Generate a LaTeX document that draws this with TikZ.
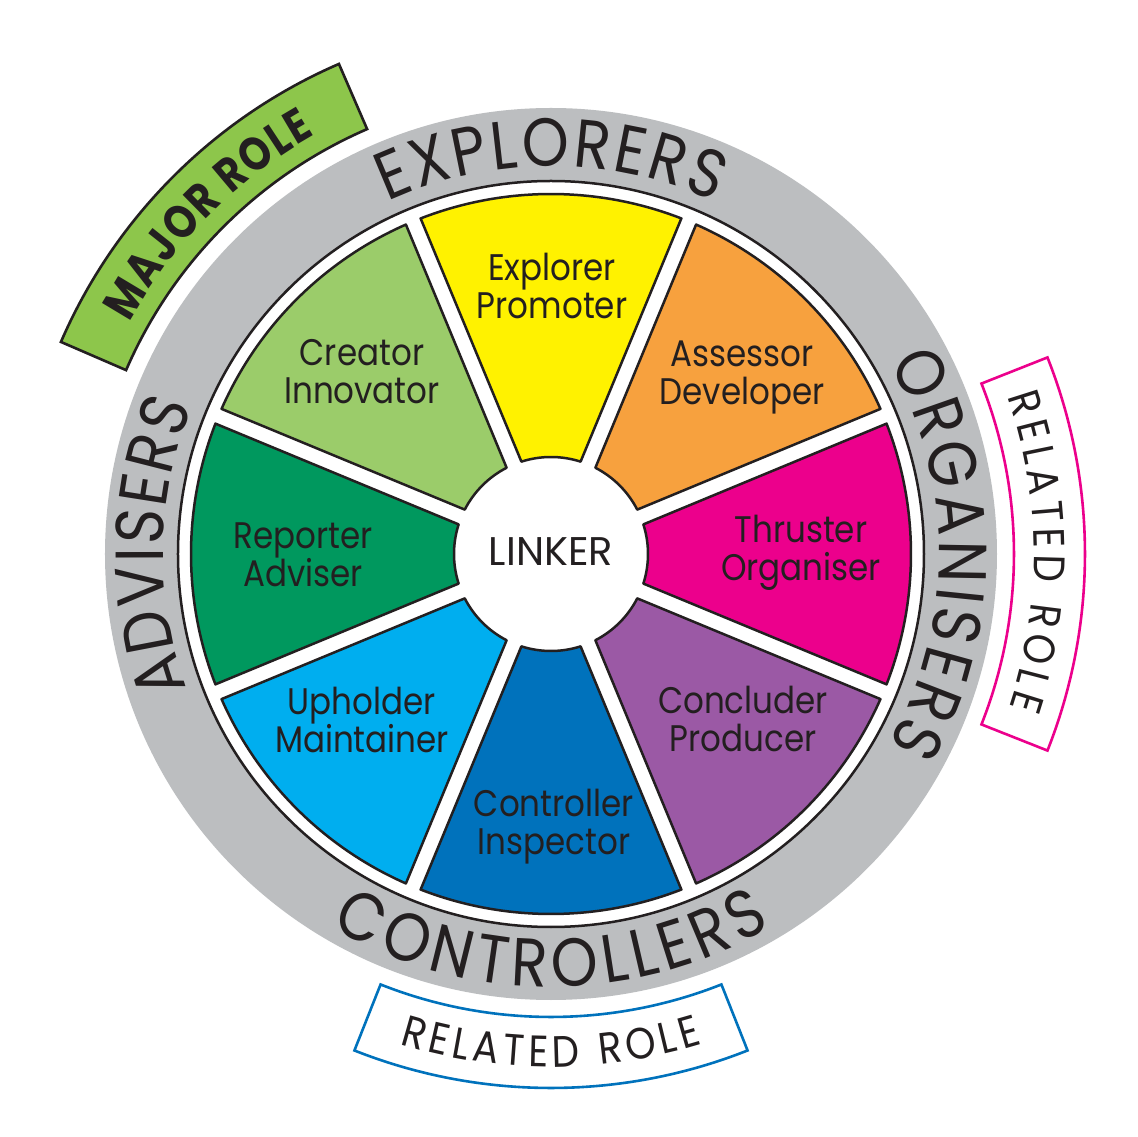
\documentclass[tikz,border=0pt]{standalone}
\usepackage{fontspec}
\setmainfont{Poppins}[FakeStretch=0.88]
\newfontfamily\mylinkfont{Poppins}
\newfontfamily\myboldfam{Poppins}[FakeStretch=0.84]
\usetikzlibrary{decorations.text}
\definecolor{ringgray}{RGB}{188,190,192}
\definecolor{txt}{RGB}{35,31,32}
\definecolor{cgreen}{RGB}{155,204,106}
\definecolor{cyellow}{RGB}{255,242,0}
\definecolor{corange}{RGB}{247,161,62}
\definecolor{cmagenta}{RGB}{236,0,140}
\definecolor{cpurple}{RGB}{155,89,165}
\definecolor{cblue}{RGB}{0,114,188}
\definecolor{clblue}{RGB}{0,174,239}
\definecolor{cdgreen}{RGB}{0,152,94}
\definecolor{majgreen}{RGB}{141,198,75}
\newcommand\myringfont{\fontsize{68}{68}\selectfont}
\newcommand\mymajfont{\myboldfam\fontsize{47}{47}\selectfont\bfseries}
\newcommand\myrelfont{\fontsize{44}{44}\selectfont}
\begin{document}
\begin{tikzpicture}[
  sector/.style={draw=txt, line width=2.5pt, line join=round},
  lbl/.style={align=center, text=txt, font=\fontsize{37}{38}\selectfont, inner sep=0pt},
  rolebox/.style={line width=2.6pt, line join=miter},
  ringtext/.style={decorate, decoration={text along path, text align=fit to path, text color=txt, text={|\myringfont|#1}}},
  roletext/.style 2 args={decorate, decoration={text along path, text align=fit to path, text color=txt, text={|#1|#2}}},
]
\useasboundingbox (-551pt,-583pt) rectangle (587pt,554pt);
\fill[white] (-551pt,-583pt) rectangle (587pt,554pt);
% ring
\fill[ringgray] (0,0) circle[radius=446pt];
\draw[fill=white, draw=txt, line width=2.5pt] (0,0) circle[radius=373pt];
% sectors
\foreach \a/\c in {90/cyellow, 45/corange, 0/cmagenta, -45/cpurple, -90/cblue, -135/clblue, 180/cdgreen, 135/cgreen}{
  \draw[sector, fill=\c] (\a-21.23:360pt) arc[start angle=\a-21.23, end angle=\a+21.23, radius=360pt]
     -- (\a+17.77:97pt) arc[start angle=\a+17.77, end angle=\a-17.77, radius=97pt] -- cycle;
}
% sector labels
\node[lbl] (creator) at (-189pt,182pt) {Creator\\Innovator};
\node[lbl] (explorer) at (1pt,268pt) {Explorer\\Promoter};
\node[lbl] (assessor) at (191pt,177pt) {Assessor\\Developer};
\node[lbl] (thruster) at (250pt,1pt) {Thruster\\Organiser};
\node[lbl] (concluder) at (192pt,-165pt) {Concluder\\Producer};
\node[lbl] (controller) at (3pt,-273pt) {Controller\\Inspector};
\node[lbl] (upholder) at (-189pt,-166pt) {Upholder\\Maintainer};
\node[lbl] (reporter) at (-248pt,-1pt) {Reporter\\Adviser};
\node[lbl, font=\mylinkfont\fontsize{40}{40}\selectfont] (linker) at (0pt,2pt) {LINKER};
% ring texts
\path[ringtext=EXPLORERS] (114.9:388pt) arc[start angle=114.9, end angle=65.1, radius=388pt];
\path[ringtext=ORGANISERS] (29.5:388pt) arc[start angle=29.5, end angle=-29.5, radius=388pt];
\path[ringtext=ADVISERS] (200.3:388pt) arc[start angle=200.3, end angle=157.6, radius=388pt];
\path[ringtext=CONTROLLERS] (239.5:433pt) arc[start angle=239.5, end angle=300.5, radius=433pt];
% role boxes
\draw[rolebox, fill=majgreen, draw=txt] (113.4:463pt) arc[start angle=113.4, end angle=156.6, radius=463pt]
   -- (156.6:534pt) arc[start angle=156.6, end angle=113.4, radius=534pt] -- cycle;
\draw[rolebox, fill=white, draw=cmagenta] (-21.6:463pt) arc[start angle=-21.6, end angle=21.6, radius=463pt]
   -- (21.6:534pt) arc[start angle=21.6, end angle=-21.6, radius=534pt] -- cycle;
\draw[rolebox, fill=white, draw=cblue] (248.4:463pt) arc[start angle=248.4, end angle=291.6, radius=463pt]
   -- (291.6:534pt) arc[start angle=291.6, end angle=248.4, radius=534pt] -- cycle;
% role texts
\path[roletext={\mymajfont}{MAJOR ROLE}] (151.2:481pt) arc[start angle=151.2, end angle=119.4, radius=481pt];
\path[roletext={\myrelfont}{RELATED ROLE}] (19.0:483pt) arc[start angle=19.0, end angle=-18.5, radius=483pt];
\path[roletext={\myrelfont}{RELATED ROLE}] (252.8:513pt) arc[start angle=252.8, end angle=287.2, radius=513pt];
\end{tikzpicture}
\end{document}
